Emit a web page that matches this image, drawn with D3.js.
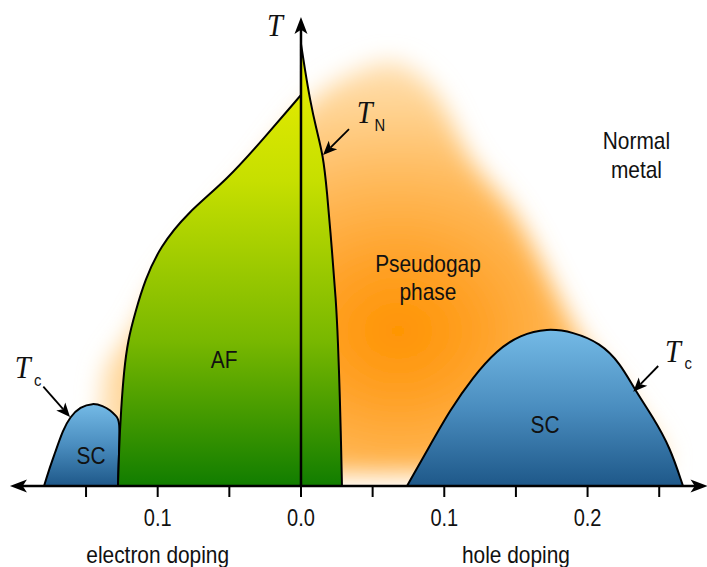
<!DOCTYPE html>
<html>
<head>
<meta charset="utf-8">
<script src="https://cdn.jsdelivr.net/npm/d3@7"></script>
<style>
  html, body { margin: 0; padding: 0; background: #fff; }
  svg { display: block; }
</style>
</head>
<body>
<svg id="chart" width="707" height="567"></svg>
<script>
// Generic cuprate phase diagram: doping (negative = electron doping) vs temperature (arb. units)

// Axis ticks and labels
const tickValues = [-0.15, -0.1, -0.05, 0, 0.05, 0.1, 0.15, 0.2, 0.25];
const tickLabels = [
  { v: -0.1, t: "0.1" },
  { v: 0.0, t: "0.0" },
  { v: 0.1, t: "0.1" },
  { v: 0.2, t: "0.2" }
];
const axisTitles = [
  { v: -0.1, t: "electron doping" },
  { v: 0.15, t: "hole doping" }
];

// Antiferromagnetic phase: left edge (bottom -> top), right edge T_N (top -> bottom)
const afLeft = [
  [-0.1277, 0], [-0.1270, 22.5], [-0.1256, 47.5], [-0.1235, 72.5], [-0.1207, 91.3],
  [-0.1158, 108.1], [-0.1089, 128.8], [-0.0984, 149.4], [-0.0796, 170.6],
  [-0.0516, 191.3], [-0.0251, 218.1], [0, 244.4]
];
const afRight = [
  [0, 276.3], [0.0028, 260], [0.0063, 241.3], [0.0105, 223.8], [0.0154, 206.9],
  [0.0181, 185], [0.0216, 147.5], [0.0244, 116.3], [0.0258, 91.3],
  [0.0272, 53.8], [0.0279, 28.8], [0.0286, 0]
];

// Superconducting domes T_c
const scElectron = [
  [-0.1793, 0], [-0.1759, 10], [-0.1717, 20.6], [-0.1661, 35], [-0.1612, 43.1],
  [-0.1542, 49.4], [-0.1452, 51.9], [-0.1382, 50], [-0.1333, 47.5],
  [-0.1291, 43.8], [-0.1263, 41.3], [-0.1270, 20], [-0.1277, 0]
];
const scHole = [
  [0.0740, 0], [0.0886, 23.1], [0.1040, 47.5], [0.1200, 68.1], [0.1368, 85],
  [0.1528, 94.4], [0.1717, 98.6], [0.1898, 96.3], [0.2087, 89.4], [0.2226, 76.9],
  [0.2331, 60], [0.2456, 43.1], [0.2575, 24.4], [0.2666, 0]
];

// Pseudogap region (core outline, softened with a blur)
const pseudogap = [
  [-0.1403, 12], [-0.1389, 53.8], [-0.1361, 72.5], [-0.1172, 97.5],
  [-0.0970, 128.8], [-0.0635, 165], [-0.0321, 197.5], [0.0077, 241],
  [0.0342, 257], [0.0642, 265], [0.0900, 250], [0.1193, 203],
  [0.1493, 169.4], [0.1961, 91.3], [0.2282, 53.8], [0.2540, 12],
  [0.1389, 9], [0.0551, 8], [-0.0356, 9]
];

// Region labels
const regionLabels = [
  { d: 0.0886, T: 133.8, t: "Pseudogap" },
  { d: 0.0886, T: 116.3, t: "phase" },
  { d: 0.2341, T: 210.4, t: "Normal" },
  { d: 0.2341, T: 192.3, t: "metal" },
  { d: -0.0537, T: 73.8, t: "AF" },
  { d: -0.1465, T: 13.8, t: "SC" },
  { d: 0.1703, T: 33.1, t: "SC" }
];

// Temperature labels with pointer arrows
const tempLabels = [
  { sub: "N", d: 0.0390, T: 226.7, from: [0.0335, 223.1], to: [0.0154, 206.9] },
  { sub: "c", d: -0.1998, T: 67.3, from: [-0.1798, 62.1], to: [-0.1612, 43.1] },
  { sub: "c", d: 0.2541, T: 77.7, from: [0.2493, 75.0], to: [0.2319, 58.9] }
];

const width = 707, height = 567;
const x = d3.scaleLinear().domain([-0.2, 0.28]).range([14.4, 702.2]);
const y = d3.scaleLinear().domain([0, 300]).range([486, 6]);

const svg = d3.select("#chart");
const defs = svg.append("defs");

const SANS = "'Liberation Sans', Arial, Helvetica, sans-serif";
const SERIF = "'Liberation Serif', 'Times New Roman', serif";
const SQUEEZE = 0.87;

// Gradients
const afGrad = defs.append("linearGradient")
  .attr("id", "afGrad").attr("gradientUnits", "userSpaceOnUse")
  .attr("x1", 0).attr("x2", 0).attr("y1", y(276.3)).attr("y2", y(0));
[[0, "#e9f000"], [0.13, "#dde800"], [0.31, "#c6df00"], [0.67, "#79b800"], [1, "#117d00"]]
  .forEach(([o, c]) => afGrad.append("stop").attr("offset", o).attr("stop-color", c));

const scGrad = defs.append("linearGradient")
  .attr("id", "scGrad").attr("x1", 0).attr("x2", 0).attr("y1", 0).attr("y2", 1);
[[0, "#74bae6"], [0.5, "#4a8dbf"], [1, "#1e5889"]]
  .forEach(([o, c]) => scGrad.append("stop").attr("offset", o).attr("stop-color", c));

// Elliptical glow centred in the pseudogap region
const pgGrad = defs.append("radialGradient")
  .attr("id", "pgGrad").attr("gradientUnits", "userSpaceOnUse")
  .attr("cx", 0).attr("cy", 0).attr("r", 1)
  .attr("gradientTransform", `translate(${x(0.068)},${y(97)}) scale(340,285)`);
[[0, "#ff9300"], [0.25, "#ffa229"], [0.55, "#ffbb5e"], [0.8, "#ffd494"], [1, "#ffe6c2"]]
  .forEach(([o, c]) => pgGrad.append("stop").attr("offset", o).attr("stop-color", c));

const blur = defs.append("filter").attr("id", "soft")
  .attr("filterUnits", "userSpaceOnUse")
  .attr("x", 0).attr("y", 0).attr("width", width).attr("height", height);
blur.append("feGaussianBlur").attr("stdDeviation", 12);

const clip = defs.append("clipPath").attr("id", "aboveAxis");
clip.append("rect").attr("x", 0).attr("y", 0).attr("width", width).attr("height", y(0));

// Pseudogap haze
svg.append("g").attr("clip-path", "url(#aboveAxis)")
  .append("path")
  .attr("d", d3.line().x(p => x(p[0])).y(p => y(p[1])).curve(d3.curveCatmullRomClosed.alpha(0.5))(pseudogap))
  .attr("fill", "url(#pgGrad)")
  .attr("filter", "url(#soft)");

const smooth = d3.line().x(p => x(p[0])).y(p => y(p[1])).curve(d3.curveBasis);

// Superconducting domes
[scElectron, scHole].forEach(pts => {
  svg.append("path")
    .attr("d", smooth(pts) + "Z")
    .attr("fill", "url(#scGrad)").attr("stroke", "#000").attr("stroke-width", 2)
    .attr("stroke-linejoin", "round");
});

// Antiferromagnetic region
const afPath = smooth(afLeft) + smooth(afRight).replace(/^M/, "L") + "Z";
svg.append("path")
  .attr("d", afPath)
  .attr("fill", "url(#afGrad)").attr("stroke", "#000").attr("stroke-width", 2)
  .attr("stroke-linejoin", "round");

// Arrowhead helper: filled head pointing from (x0,y0) to (x1,y1)
function arrowHead(g, x0, y0, x1, y1, len, half) {
  const dx = x1 - x0, dy = y1 - y0, L = Math.hypot(dx, dy);
  const ux = dx / L, uy = dy / L, nx = -uy, ny = ux;
  const bx = x1 - ux * len, by = y1 - uy * len;
  const mx = x1 - ux * len * 0.75, my = y1 - uy * len * 0.75;
  g.append("path")
    .attr("d", `M${x1},${y1}L${bx + nx * half},${by + ny * half}L${mx},${my}L${bx - nx * half},${by - ny * half}Z`)
    .attr("fill", "#000");
  return [mx, my];
}

// Axes
const axes = svg.append("g");
const xl = x(-0.2031), xr = x(0.2837), y0 = y(0), yTop = y(293.1), x0 = x(0);
axes.append("line").attr("x1", xl + 8).attr("x2", xr - 8).attr("y1", y0).attr("y2", y0)
  .attr("stroke", "#000").attr("stroke-width", 2.5);
axes.append("line").attr("x1", x0).attr("x2", x0).attr("y1", y0).attr("y2", yTop + 8)
  .attr("stroke", "#000").attr("stroke-width", 2.5);
arrowHead(axes, x0, y0, xl, y0, 17, 6.5);
arrowHead(axes, x0, y0, xr, y0, 17, 6.5);
arrowHead(axes, x0, y0, x0, yTop, 17, 6.5);

axes.selectAll("line.tick").data(tickValues).join("line")
  .attr("class", "tick")
  .attr("x1", d => x(d)).attr("x2", d => x(d))
  .attr("y1", y0).attr("y2", y0 + 11)
  .attr("stroke", "#000").attr("stroke-width", 2);

function sansText(g, s, px, py, size) {
  return g.append("text")
    .attr("transform", `translate(${px},${py}) scale(${SQUEEZE},1)`)
    .attr("text-anchor", "middle")
    .attr("font-family", SANS).attr("font-size", size)
    .attr("fill", "#111").text(s);
}

tickLabels.forEach(d => sansText(axes, d.t, x(d.v), y0 + 40, 23));
axisTitles.forEach(d => sansText(axes, d.t, x(d.v), y0 + 76.5, 24));

// T axis label
axes.append("text")
  .attr("transform", `translate(${x0 - 34},${y(281.3)}) scale(0.92,1)`)
  .attr("font-family", SERIF).attr("font-style", "italic").attr("font-size", 31)
  .attr("fill", "#111").text("T");

// Region labels
const labels = svg.append("g");
regionLabels.forEach(d => sansText(labels, d.t, x(d.d), y(d.T), 24));

// Temperature labels and arrows
const ann = svg.append("g");
tempLabels.forEach(d => {
  const tx = x(d.d), ty = y(d.T);
  ann.append("text")
    .attr("transform", `translate(${tx},${ty}) scale(0.92,1)`)
    .attr("font-family", SERIF).attr("font-style", "italic").attr("font-size", 31)
    .attr("fill", "#111").text("T");
  sansText(ann, d.sub, tx + 23, ty + 7.5, 17);
  const [ax0, ay0] = [x(d.from[0]), y(d.from[1])];
  const [ax1, ay1] = [x(d.to[0]), y(d.to[1])];
  const [mx, my] = arrowHead(ann, ax0, ay0, ax1, ay1, 14, 6);
  ann.append("line").attr("x1", ax0).attr("y1", ay0).attr("x2", mx).attr("y2", my)
    .attr("stroke", "#000").attr("stroke-width", 1.8);
});
</script>
</body>
</html>
